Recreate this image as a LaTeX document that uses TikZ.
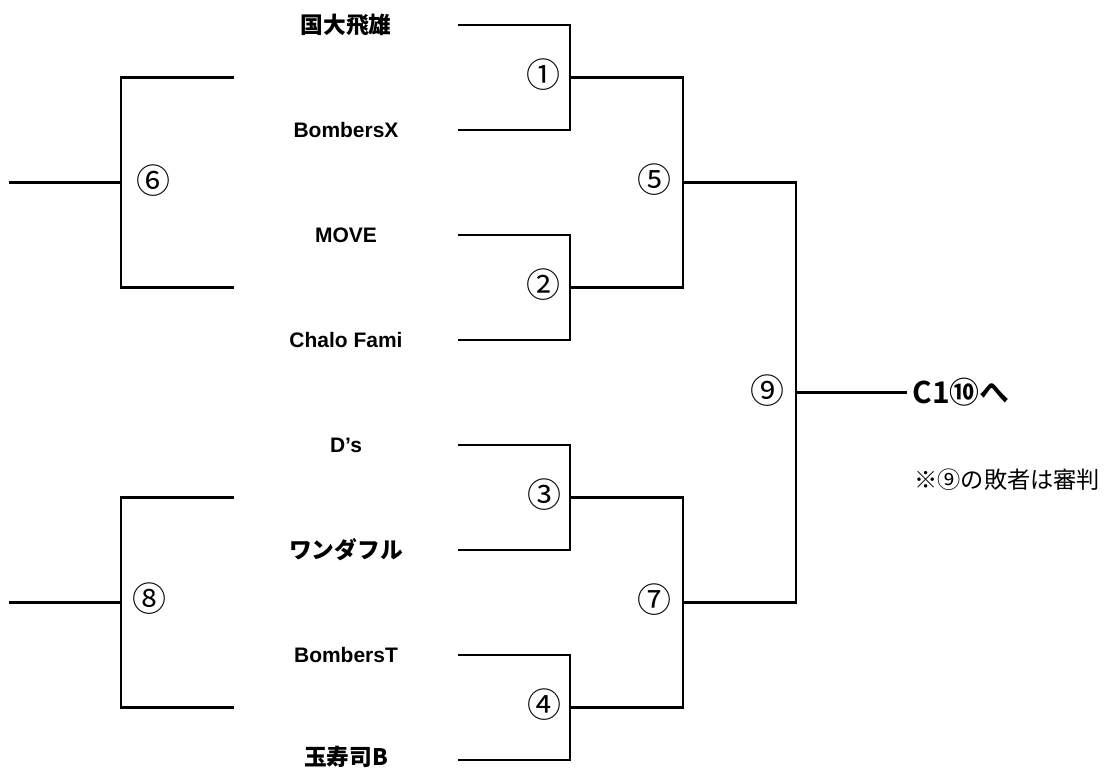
\documentclass[tikz,border=0pt]{standalone}
\usepackage{fontspec}
\setmainfont{Liberation Sans}
\newfontfamily\jpfont{Noto Sans CJK JP}
\newfontfamily\jpbold{Noto Sans CJK JP Bold}
\newcommand{\jpname}{\jpbold\fontsize{19.4}{20}\selectfont}

\begin{document}
\begin{tikzpicture}[x=0.03cm,y=-0.03cm,line width=0.085cm,
  team/.style={font=\bfseries\fontsize{17.9}{20}\selectfont,inner sep=0},
  num/.style={font=\jpfont\fontsize{29}{30}\selectfont,inner sep=0}]
\useasboundingbox (0,0) rectangle (1107,769);

\foreach \i/\t in {1/{\jpname 国大飛雄},2/BombersX,3/MOVE,4/Chalo Fami,5/D's,6/{\jpname ワンダフル},7/BombersT,8/{\jpname 玉寿司B}}
{
  \node[team] (team\i) at (346,{25+105*(\i-1)-(\i==8)*3}) {\t};
  \coordinate (t\i) at (458,{25+105*(\i-1)});
}
\foreach \m/\y in {1/77.5,2/287.5,3/497.5,4/707.5} \coordinate (m\m) at (570,\y);
\coordinate (m5) at (683,182.5);
\coordinate (m7) at (683,602.5);
\coordinate (m9) at (796,392.5);
\coordinate (m6) at (121,182.5);
\coordinate (m8) at (121,602.5);
\foreach \m/\y in {1/77.5,2/287.5,3/497.5,4/707.5} \coordinate (l\m) at (234,\y);
\coordinate (e6) at (9,182.5);
\coordinate (e8) at (9,602.5);

\foreach \a/\b/\m in {1/2/1,3/4/2,5/6/3,7/8/4} \draw (t\a) -| (m\m) |- (t\b);
\draw (m1) -| (m5) |- (m2);
\draw (m3) -| (m7) |- (m4);
\draw (m5) -| (m9) |- (m7);
\draw (l1) -| (m6) |- (l2);
\draw (l3) -| (m8) |- (l4);
\draw (e6) -- (m6);
\draw (e8) -- (m8);

\node[font=\jpbold\fontsize{25.5}{26}\selectfont,anchor=west,inner sep=0.12cm] (next) at (907,392.5) {C1⑩へ};
\draw (m9) -- (next.west);
\node[font=\jpfont\fontsize{19.8}{20}\selectfont,anchor=west,inner sep=0] (note) at (913,480) {※⑨の敗者は審判};

\foreach \n/\k/\x/\y in {①/1/543/75,②/2/543/285,③/3/544/495,④/4/544/705,⑤/5/654/180,⑦/7/654/600,⑨/9/767/391,⑥/6/153/181,⑧/8/149/599}
  \node[num] (c\k) at (\x,\y) {\n};
\end{tikzpicture}
\end{document}
